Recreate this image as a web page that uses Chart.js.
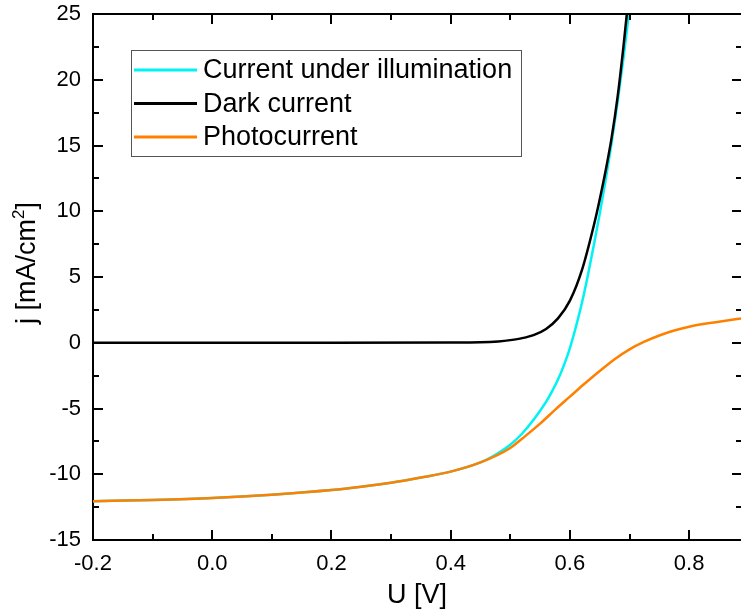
<!DOCTYPE html>
<html>
<head>
<meta charset="utf-8">
<script src="https://cdn.jsdelivr.net/npm/chart.js@4"></script>
<style>
  html, body { margin: 0; padding: 0; background: #fff; }
  #wrap { width: 741px; height: 614px; }
</style>
</head>
<body>
<div id="wrap"><canvas id="ivChart" width="741" height="614"></canvas></div>
<script>
// voltage samples [V] and current densities [mA/cm2]
const uIllum = [-0.2, -0.1, 0.0, 0.1, 0.2, 0.25, 0.3, 0.35, 0.4, 0.45, 0.47, 0.5, 0.52, 0.54, 0.56, 0.57, 0.58, 0.59, 0.6, 0.61, 0.62, 0.63, 0.64, 0.65, 0.66, 0.67, 0.68, 0.69, 0.7, 0.705];
const jIllum = [-12.05, -11.95, -11.8, -11.55, -11.2, -10.95, -10.65, -10.25, -9.8, -9.1, -8.65, -7.75, -6.9, -5.8, -4.5, -3.7, -2.8, -1.7, -0.4, 1.2, 3.0, 5.1, 7.4, 9.8, 12.4, 15.2, 18.3, 21.7, 25.4, 27.4];

const uDark = [-0.2, 0.0, 0.2, 0.4, 0.45, 0.48, 0.5, 0.52, 0.54, 0.56, 0.58, 0.6, 0.62, 0.64, 0.65, 0.66, 0.67, 0.68, 0.69, 0.7];
const jDark = [0, 0, 0, 0.01, 0.03, 0.1, 0.2, 0.35, 0.6, 1.05, 1.85, 3.2, 5.5, 8.9, 10.9, 13.1, 15.6, 18.7, 22.6, 27.0];

const uPhoto = [-0.2, -0.1, 0.0, 0.1, 0.2, 0.25, 0.3, 0.35, 0.4, 0.45, 0.5, 0.525, 0.55, 0.575, 0.6, 0.625, 0.65, 0.675, 0.7, 0.725, 0.75, 0.775, 0.8, 0.85, 0.887];
const jPhoto = [-12.05, -11.95, -11.8, -11.55, -11.2, -10.95, -10.65, -10.25, -9.8, -9.1, -8.0, -7.1, -6.15, -5.1, -4.1, -3.1, -2.15, -1.25, -0.5, 0.08, 0.55, 0.93, 1.22, 1.6, 1.85];

const seriesLabels = ['Current under illumination', 'Dark current', 'Photocurrent'];
const seriesColors = ['#00F2F2', '#000000', '#FF8000'];

const xTickLabels = ['-0.2', '0.0', '0.2', '0.4', '0.6', '0.8'];
const yTickLabels = ['-15', '-10', '-5', '0', '5', '10', '15', '20', '25'];

const FONT = "'Liberation Sans', Arial, sans-serif";

function pts(us, js) {
    return us.map((u, i) => ({ x: u, y: js[i] }));
}

// inward ticks on all four sides, top frame line and y title with superscript
const frameTicks = {
    id: 'frameTicks',
    afterDraw(chart) {
        const { ctx, chartArea: a, scales: { x, y } } = chart;
        ctx.save();
        ctx.strokeStyle = '#000';
        ctx.lineWidth = 2;
        ctx.beginPath();
        ctx.moveTo(a.left - 1, a.top);
        ctx.lineTo(a.right + 1, a.top);
        ctx.stroke();

        ctx.beginPath();
        for (let v = -0.2; v <= 0.887; v += 0.1) {
            const px = Math.round(x.getPixelForValue(v));
            const len = Math.round(v * 10) % 2 === 0 ? 10 : 6;
            ctx.moveTo(px, a.bottom); ctx.lineTo(px, a.bottom - len);
            ctx.moveTo(px, a.top); ctx.lineTo(px, a.top + len);
        }
        for (let v = -15; v <= 25; v += 2.5) {
            const py = Math.round(y.getPixelForValue(v));
            const len = v % 5 === 0 ? 10 : 6;
            ctx.moveTo(a.left, py); ctx.lineTo(a.left + len, py);
            ctx.moveTo(a.right + 1, py); ctx.lineTo(a.right + 1 - len, py);
        }
        ctx.stroke();

        // y axis title
        const main = 'j [mA/cm', sup = '2', end = ']';
        ctx.translate(28, (a.top + a.bottom) / 2 - 14);
        ctx.rotate(-Math.PI / 2);
        ctx.fillStyle = '#000';
        ctx.textBaseline = 'middle';
        ctx.font = '27px ' + FONT;
        const w1 = ctx.measureText(main).width;
        const w3 = ctx.measureText(end).width;
        ctx.font = '17px ' + FONT;
        const w2 = ctx.measureText(sup).width;
        let sx = -(w1 + w2 + w3) / 2;
        ctx.font = '27px ' + FONT;
        ctx.fillText(main, sx, 0);
        ctx.font = '17px ' + FONT;
        ctx.fillText(sup, sx + w1, -9);
        ctx.font = '27px ' + FONT;
        ctx.fillText(end, sx + w1 + w2, 0);
        ctx.restore();
    }
};

// boxed legend inside the plot area
const boxLegend = {
    id: 'boxLegend',
    afterDraw(chart) {
        const ctx = chart.ctx;
        const bx = 131, by = 50, bw = 390, bh = 106;
        ctx.save();
        ctx.fillStyle = '#fff';
        ctx.fillRect(bx, by, bw, bh);
        ctx.strokeStyle = '#555';
        ctx.lineWidth = 1;
        ctx.strokeRect(bx + 0.5, by + 0.5, bw, bh);
        ctx.font = '27px ' + FONT;
        ctx.textBaseline = 'middle';
        chart.data.datasets.forEach((ds, i) => {
            const ry = 70 + i * 33.5;
            ctx.strokeStyle = ds.borderColor;
            ctx.lineWidth = 3;
            ctx.beginPath();
            ctx.moveTo(134, ry);
            ctx.lineTo(197, ry);
            ctx.stroke();
            ctx.fillStyle = '#000';
            ctx.fillText(ds.label, 203, ry + 1);
        });
        ctx.restore();
    }
};

new Chart(document.getElementById('ivChart'), {
    type: 'line',
    data: {
        datasets: [
            { label: seriesLabels[0], data: pts(uIllum, jIllum), borderColor: seriesColors[0], order: 2 },
            { label: seriesLabels[1], data: pts(uDark, jDark), borderColor: seriesColors[1], order: 1 },
            { label: seriesLabels[2], data: pts(uPhoto, jPhoto), borderColor: seriesColors[2], order: 0 }
        ].map(d => Object.assign(d, {
            borderWidth: 2.5,
            pointRadius: 0,
            fill: false,
            cubicInterpolationMode: 'monotone'
        }))
    },
    options: {
        responsive: false,
        animation: false,
        layout: { padding: { top: 14, right: 0, left: 0, bottom: 0 } },
        plugins: {
            legend: { display: false },
            tooltip: { enabled: false }
        },
        scales: {
            x: {
                type: 'linear',
                min: -0.2,
                max: 0.887,
                afterFit(scale) {
                    scale.height = 74;
                    scale.paddingLeft = 0;
                    scale.paddingRight = 0;
                },
                ticks: {
                    stepSize: 0.2,
                    includeBounds: false,
                    color: '#000',
                    padding: 11,
                    maxRotation: 0,
                    font: { family: FONT, size: 22 },
                    callback: (v) => {
                        const s = v.toFixed(1);
                        return xTickLabels.includes(s) ? s : '';
                    }
                },
                grid: { drawOnChartArea: false, drawTicks: false },
                border: { color: '#000', width: 2 },
                title: {
                    display: true,
                    text: 'U [V]',
                    color: '#000',
                    font: { family: FONT, size: 27 },
                    padding: { top: 4, bottom: 2 }
                }
            },
            y: {
                min: -15,
                max: 25,
                afterFit(scale) {
                    scale.width = 93;
                    scale.paddingTop = 0;
                    scale.paddingBottom = 0;
                },
                ticks: {
                    stepSize: 5,
                    color: '#000',
                    padding: 12,
                    font: { family: FONT, size: 22 },
                    callback: (v) => yTickLabels.includes(String(v)) ? String(v) : ''
                },
                grid: { drawOnChartArea: false, drawTicks: false },
                border: { color: '#000', width: 2 },
                title: { display: false }
            }
        }
    },
    plugins: [frameTicks, boxLegend]
});
</script>
</body>
</html>
